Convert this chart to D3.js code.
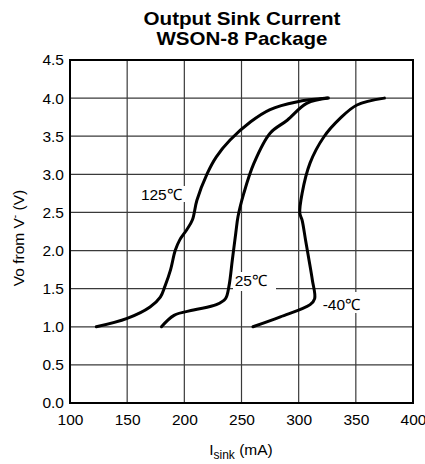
<!DOCTYPE html>
<html>
<head>
<meta charset="utf-8">
<script src="https://cdn.jsdelivr.net/npm/d3@7"></script>
<style>
  html, body { margin: 0; padding: 0; background: #fff; }
  svg { display: block; }
  text { font-family: "Liberation Sans", Arial, Helvetica, sans-serif; fill: #000; }
</style>
</head>
<body>
<svg id="chart" width="425" height="464"></svg>
<script>
// Sink current (mA) vs. output voltage above V- (V), per temperature
const current125 = [123, 150, 170, 179, 183, 188, 192, 196, 202, 207, 211, 220, 228, 240, 258, 275, 298, 325];
const volt125    = [1.00, 1.11, 1.26, 1.39, 1.53, 1.75, 2.00, 2.14, 2.27, 2.40, 2.66, 3.01, 3.23, 3.45, 3.69, 3.85, 3.95, 4.00];

const current25 = [180, 191, 208, 228, 236, 239, 242, 245, 247, 252, 261, 275, 290, 307, 326];
const volt25    = [1.00, 1.15, 1.22, 1.29, 1.37, 1.53, 1.88, 2.23, 2.45, 2.75, 3.15, 3.54, 3.71, 3.93, 4.00];

const currentM40 = [260, 284, 310, 314, 312, 309, 306, 303, 301, 303, 310, 322, 336, 351, 375];
const voltM40    = [1.00, 1.13, 1.29, 1.37, 1.61, 1.88, 2.14, 2.40, 2.49, 2.75, 3.15, 3.49, 3.73, 3.91, 4.00];

const xTicks = [100, 150, 200, 250, 300, 350, 400];
const yTicks = [0, 0.5, 1, 1.5, 2, 2.5, 3, 3.5, 4, 4.5];

const seriesNames = ["125\u2103", "25\u2103", "-40\u2103"];
// label anchor (mA, V) for each series name
const labelX = [162, 244, 321];
const labelY = [2.66, 1.53, 1.22];

const svg = d3.select("#chart");
const plotL = 70, plotR = 413, plotT = 60, plotB = 403;

const x = d3.scaleLinear().domain([100, 400]).range([plotL, plotR]);
const y = d3.scaleLinear().domain([0, 4.5]).range([plotB, plotT]);

// Title
const title = svg.append("g").attr("font-weight", "bold").attr("font-size", 19).attr("text-anchor", "middle");
title.append("text").attr("x", 242).attr("y", 25).attr("textLength", 197)
  .attr("lengthAdjust", "spacingAndGlyphs").text("Output Sink Current");
title.append("text").attr("x", 242).attr("y", 45).attr("textLength", 171)
  .attr("lengthAdjust", "spacingAndGlyphs").text("WSON-8 Package");

// Grid
const grid = svg.append("g").attr("stroke", "#3a3a3a").attr("stroke-width", 1.2);
grid.selectAll("line.v").data(xTicks.slice(1, -1)).join("line").attr("class", "v")
  .attr("x1", d => x(d)).attr("x2", d => x(d)).attr("y1", plotT).attr("y2", plotB);
grid.selectAll("line.h").data(yTicks.slice(1, -1)).join("line").attr("class", "h")
  .attr("x1", plotL).attr("x2", plotR).attr("y1", d => y(d)).attr("y2", d => y(d));

// Axes (labels only, frame drawn separately)
const xAxis = svg.append("g").attr("transform", `translate(0,${plotB})`)
  .call(d3.axisBottom(x).tickValues(xTicks).tickSize(0).tickPadding(11));
const yAxis = svg.append("g").attr("transform", `translate(${plotL},0)`)
  .call(d3.axisLeft(y).tickValues(yTicks).tickFormat(d3.format(".1f")).tickSize(0).tickPadding(6));
[xAxis, yAxis].forEach(a => {
  a.select(".domain").remove();
  a.selectAll("text").attr("font-size", 15.5).attr("font-family", "Liberation Sans, Arial, sans-serif").attr("fill", "#000");
});

// Frame
svg.append("rect").attr("x", plotL).attr("y", plotT).attr("width", plotR - plotL).attr("height", plotB - plotT)
  .attr("fill", "none").attr("stroke", "#000").attr("stroke-width", 2);

// Label backgrounds
const boxes = [[139, 186, 187, 202], [233, 272, 276, 291], [320, 292, 366, 313]];
svg.append("g").selectAll("rect").data(boxes).join("rect")
  .attr("x", d => d[0]).attr("y", d => d[1]).attr("width", d => d[2] - d[0]).attr("height", d => d[3] - d[1])
  .attr("fill", "#fff");

// Curves
const series = [
  d3.zip(current125, volt125),
  d3.zip(current25, volt25),
  d3.zip(currentM40, voltM40)
];
const line = d3.line().x(d => x(d[0])).y(d => y(d[1])).curve(d3.curveCatmullRom.alpha(0.5));
svg.append("g").selectAll("path").data(series).join("path")
  .attr("d", line).attr("fill", "none").attr("stroke", "#000").attr("stroke-width", 3)
  .attr("stroke-linecap", "round").attr("stroke-linejoin", "round");

// Series labels
svg.append("g").selectAll("text").data(seriesNames).join("text")
  .attr("x", (d, i) => x(labelX[i])).attr("y", (d, i) => y(labelY[i]))
  .attr("font-size", 15.5).text(d => d);

// Axis titles
const yl = svg.append("text").attr("transform", "translate(24,238) rotate(-90)")
  .attr("text-anchor", "middle").attr("font-size", 15.5);
yl.append("tspan").text("Vo from V");
yl.append("tspan").attr("font-size", 10).attr("dy", -6).text("-");
yl.append("tspan").attr("dy", 6).text(" (V)");

const xl = svg.append("text").attr("x", 241).attr("y", 455).attr("text-anchor", "middle").attr("font-size", 15.5);
xl.append("tspan").text("I");
xl.append("tspan").attr("font-size", 12).attr("dy", 4).text("sink");
xl.append("tspan").attr("dy", -4).text(" (mA)");
</script>
</body>
</html>
